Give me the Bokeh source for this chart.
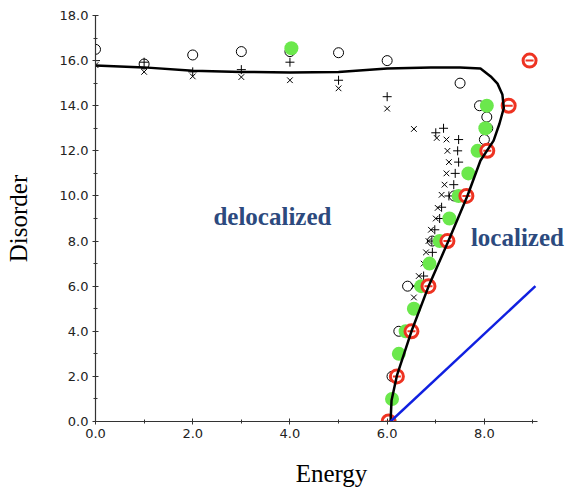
from bokeh.plotting import figure
from bokeh.models import Label, SingleIntervalTicker, PrintfTickFormatter, Range1d
from bokeh.embed import file_html
from bokeh.resources import INLINE

# ---- data ----
curve_x = [0.0, 1.0, 2.0, 3.0, 4.0, 5.0, 6.0, 6.9, 7.5, 7.92, 8.13, 8.27, 8.37, 8.4, 8.31, 8.19, 7.92, 7.65, 7.26, 6.85, 6.5, 6.2, 6.09, 6.07]
curve_y = [15.78, 15.7, 15.55, 15.5, 15.47, 15.5, 15.65, 15.7, 15.7, 15.65, 15.3, 14.98, 14.5, 13.9, 13.2, 12.45, 11.57, 10.0, 8.0, 5.98, 4.0, 2.03, 0.93, 0.0]

blue_x = [6.07, 9.05]
blue_y = [0.0, 6.0]

circ_x = [0.0, 1.0, 2.0, 3.0, 4.0, 5.0, 6.0, 7.5, 7.9, 8.05, 8.07, 8.0, 7.38, 6.93, 6.42, 6.24, 6.1, 6.0]
circ_y = [16.5, 15.85, 16.25, 16.4, 16.4, 16.35, 16.0, 15.0, 14.0, 13.5, 13.0, 12.5, 10.0, 8.0, 6.0, 4.0, 2.0, 0.0]

plus_x = [0.0, 1.0, 2.0, 3.0, 4.0, 5.0, 6.0, 7.0, 7.16, 7.47, 7.45, 7.47, 7.4, 7.37, 7.27, 7.12, 7.08, 6.98, 6.92, 6.93, 6.75]
plus_y = [16.0, 15.93, 15.5, 15.6, 15.93, 15.13, 14.4, 12.8, 13.0, 12.5, 12.0, 11.5, 11.0, 10.5, 10.0, 9.5, 9.0, 8.5, 8.0, 7.5, 6.45]

xm_x = [0.0, 1.0, 2.0, 3.0, 4.0, 5.0, 6.0, 6.55, 7.02, 7.22, 7.24, 7.27, 7.22, 7.18, 7.12, 7.04, 7.0, 6.9, 6.85, 6.8, 6.75, 6.65, 6.55, 6.55]
xm_y = [15.8, 15.5, 15.3, 15.27, 15.13, 14.77, 13.87, 12.97, 12.57, 12.5, 12.0, 11.5, 11.0, 10.5, 10.05, 9.47, 9.0, 8.5, 8.0, 7.5, 7.0, 6.45, 6.0, 5.5]

green_x = [4.03, 8.05, 8.02, 7.86, 7.67, 7.47, 7.28, 7.08, 6.87, 6.7, 6.55, 6.38, 6.24, 6.1, 6.05]
green_y = [16.55, 14.0, 13.0, 12.0, 11.0, 10.0, 9.0, 8.0, 7.0, 6.0, 5.0, 4.0, 3.0, 1.0, 0.0]

red_x = [8.93, 8.5, 8.06, 7.63, 7.24, 6.85, 6.5, 6.2, 6.03]
red_y = [16.0, 14.0, 12.0, 10.0, 8.0, 6.0, 4.0, 2.0, 0.0]

# ---- figure ----
p = figure(width=567, height=489, output_backend="svg", toolbar_location=None,
           x_range=Range1d(0, 9.71), y_range=Range1d(0, 18.0),
           min_border_left=95, min_border_right=0, min_border_top=15, min_border_bottom=68)
p.outline_line_color = None
p.grid.visible = False
p.background_fill_color = "white"
p.border_fill_color = "white"

for ax in (p.xaxis[0], p.yaxis[0]):
    ax.ticker = SingleIntervalTicker(interval=2, num_minor_ticks=2)
    ax.formatter = PrintfTickFormatter(format="%.1f")
    ax.axis_line_color = "#333333"
    ax.axis_line_width = 1.2
    ax.major_tick_line_color = "#333333"
    ax.minor_tick_line_color = "#333333"
    ax.major_tick_in = 3
    ax.major_tick_out = 3
    ax.minor_tick_in = 2
    ax.minor_tick_out = 2
    ax.major_label_text_font = "DejaVu Sans"
    ax.major_label_text_font_size = "13px"
    ax.major_label_text_color = "#222222"
    ax.major_label_standoff = 4
    ax.axis_label_text_font = "Liberation Serif"
    ax.axis_label_text_font_size = "25px"
    ax.axis_label_text_font_style = "normal"
    ax.axis_label_text_color = "black"

p.xaxis.bounds = (0, 9.1)
p.xaxis.axis_label = "Energy"
p.xaxis.axis_label_standoff = 19
p.yaxis.axis_label = "Disorder"
p.yaxis.axis_label_standoff = 25

# markers
p.scatter(circ_x, circ_y, marker="circle", size=10, fill_color=None, line_color="black", line_width=1)
p.scatter(plus_x, plus_y, marker="cross", size=9, line_color="black", line_width=1)
p.scatter(xm_x, xm_y, marker="x", size=8, line_color="black", line_width=1)
p.scatter(green_x, green_y, marker="circle", size=14, fill_color="#6be84c", line_color=None)
p.scatter(red_x, red_y, marker="circle", size=13, fill_color="white", line_color="#ee3322", line_width=3)
p.scatter(red_x, red_y, marker="dash", size=8, line_color="#ee3322", line_width=2)

# lines
p.line(curve_x, curve_y, line_color="black", line_width=2.5)
p.line(blue_x, blue_y, line_color="#1020e0", line_width=2.5)

# region labels
p.add_layout(Label(x=3.64, y=9.1, text="delocalized", text_align="center", text_baseline="middle",
                   text_font="Liberation Serif", text_font_style="bold", text_font_size="25px",
                   text_color="#2c4a7e"))
p.add_layout(Label(x=8.68, y=8.15, text="localized", text_align="center", text_baseline="middle",
                   text_font="Liberation Serif", text_font_style="bold", text_font_size="25px",
                   text_color="#2c4a7e"))

open("out.html", "w").write(file_html(p, INLINE))
